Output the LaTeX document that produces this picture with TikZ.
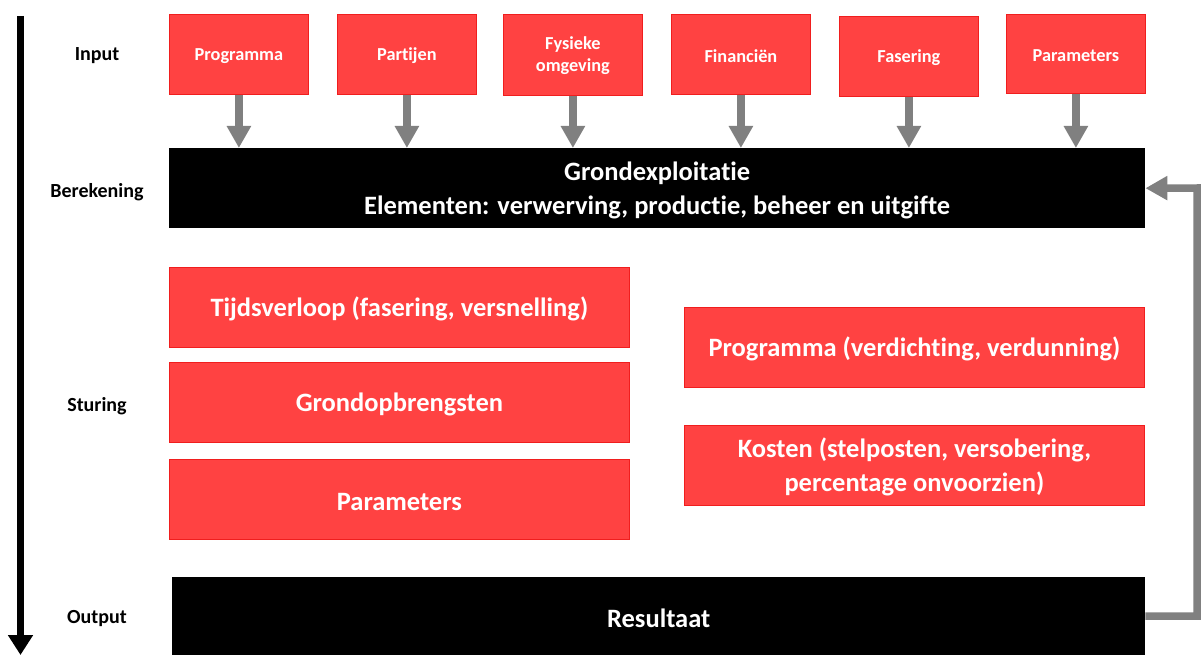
\documentclass[tikz,border=0pt]{standalone}
\usepackage{fontspec}
\setmainfont{Carlito}[RawFeature={-liga}]
\usetikzlibrary{arrows.meta}
\definecolor{boxred}{RGB}{255,66,66}
\definecolor{boxredline}{RGB}{240,30,30}
\definecolor{arrgray}{RGB}{128,128,128}
% extra height in the first line to move the text down a little
\newcommand\dnshift[1][5pt]{\rule{0pt}{\dimexpr\fontcharht\font`d+#1\relax}}
\tikzset{
  inbox/.style={draw=boxredline, line width=0.8pt, fill=boxred, text=white, anchor=north west,
    minimum width=139pt, minimum height=80pt, inner sep=0pt, align=center,
    font=\bfseries\fontsize{18.3}{22}\selectfont},
  bigred/.style={draw=boxredline, line width=0.8pt, fill=boxred, text=white, anchor=north west,
    minimum width=460pt, minimum height=80pt, inner sep=0pt, align=center,
    font=\bfseries\fontsize{26.5}{34}\selectfont},
  blackbox/.style={fill=black, text=white, anchor=north west, inner sep=0pt, align=center,
    font=\bfseries\fontsize{26.5}{34}\selectfont},
  sidelabel/.style={font=\bfseries\fontsize{20}{24}\selectfont, text=black},
  grayarrow/.style={draw=arrgray, line width=7.5pt, -{Triangle[width=23pt,length=22pt]}},
  timearrow/.style={draw=black, line width=7pt, -{Triangle[width=24pt,length=20pt]}}
}
\begin{document}
\begin{tikzpicture}[x=1pt,y=-1pt]
\useasboundingbox (0,0) rectangle (1202,655);
% input boxes
\node[inbox] (i1) at (169,14) {\dnshift[2.5pt]Programma};
\node[inbox] (i2) at (337,14) {\dnshift[2.5pt]Partijen};
\node[inbox, minimum height=81pt] (i3) at (503,14) {\dnshift[0.5pt]Fysieke\\omgeving};
\node[inbox] (i4) at (671,14) {\dnshift[2.5pt]Financiën};
\node[inbox] (i5) at (839,16) {\dnshift[2.5pt]Fasering};
\node[inbox, minimum height=79pt] (i6) at (1006,14) {\dnshift[2.5pt]Parameters};
% calculation box
\node[blackbox, minimum width=976pt, minimum height=80pt] (calc) at (169,148)
  {\dnshift Grondexploitatie\\Elementen: verwerving, productie, beheer en uitgifte};
% input arrows
\foreach \n in {i1,i2,i3,i4,i5,i6}
  \draw[grayarrow] (\n.south) -- (\n.south |- calc.north);
% steering boxes
\node[bigred] (s1) at (169,267) {\dnshift[4pt]Tijdsverloop (fasering, versnelling)};
\node[bigred] (s2) at (169,362) {\dnshift[4pt]Grondopbrengsten};
\node[bigred] (s3) at (169,459) {\dnshift[4pt]Parameters};
\node[bigred] (s4) at (684,307) {\dnshift[4pt]Programma (verdichting, verdunning)};
\node[bigred] (s5) at (684,425) {\dnshift Kosten (stelposten, versobering,\\percentage onvoorzien)};
% output box
\node[blackbox, minimum width=973pt, minimum height=78pt] (res) at (172,577) {\dnshift Resultaat};
% feedback arrow
\coordinate (fb) at (1197,188);
\draw[grayarrow, line join=miter] (res.east) -| (fb) -- (calc.east);
% side labels
\node[sidelabel] (lin) at (97,56) {Input};
\node[sidelabel] (lber) at (97,192) {Berekening};
\node[sidelabel] (lstu) at (97,406) {Sturing};
\node[sidelabel] (lout) at (97,619) {Output};
% time arrow
\coordinate (ttop) at (20.5,16);
\coordinate (tbot) at (20.5,655);
\draw[timearrow] (ttop) -- (tbot);
\end{tikzpicture}
\end{document}
